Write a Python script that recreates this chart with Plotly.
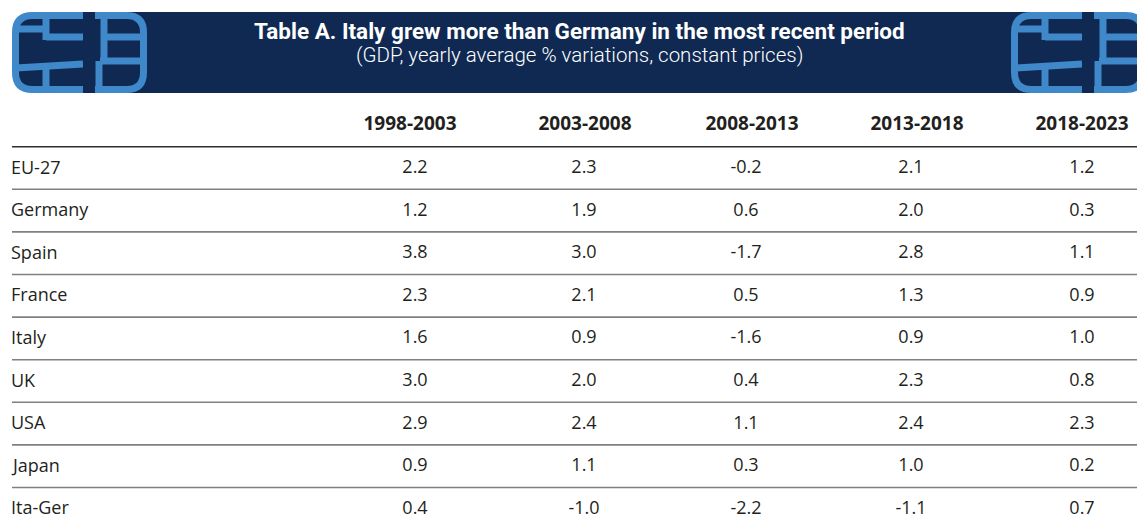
import plotly.graph_objects as go

# ---------------- data ----------------
periods = ["1998-2003", "2003-2008", "2008-2013", "2013-2018", "2018-2023"]
countries = ["EU-27", "Germany", "Spain", "France", "Italy", "UK", "USA", "Japan", "Ita-Ger"]
v_1998_2003 = [2.2, 1.2, 3.8, 2.3, 1.6, 3.0, 2.9, 0.9, 0.4]
v_2003_2008 = [2.3, 1.9, 3.0, 2.1, 0.9, 2.0, 2.4, 1.1, -1.0]
v_2008_2013 = [-0.2, 0.6, -1.7, 0.5, -1.6, 0.4, 1.1, 0.3, -2.2]
v_2013_2018 = [2.1, 2.0, 2.8, 1.3, 0.9, 2.3, 2.4, 1.0, -1.1]
v_2018_2023 = [1.2, 0.3, 1.1, 0.9, 1.0, 0.8, 2.3, 0.2, 0.7]
columns = [v_1998_2003, v_2003_2008, v_2008_2013, v_2013_2018, v_2018_2023]
title = "Table A. Italy grew more than Germany in the most recent period"
subtitle = "(GDP, yearly average % variations, constant prices)"

# ---------------- layout constants (pixel-like axis units) ----------------
W, H = 1137, 524
NAVY = "#0f2952"
BLUE = "#3f88c9"
TXT = "#231f20"
head_x = [410, 585, 752, 917, 1082]
val_x = [415, 584, 746, 911, 1082]
head_y = 125
line0 = 146.7
step = 42.6
label_x = 9
body_font = "Open Sans, Noto Sans, sans-serif"
title_font = "Roboto, sans-serif"

row_y = [line0 + step * (i + 0.5) for i in range(len(countries))]

fig = go.Figure()

# values
for j, col in enumerate(columns):
    fig.add_trace(go.Scatter(
        x=[val_x[j]] * len(col), y=[y + 0.5 for y in row_y],
        text=[f"{v:.1f}" for v in col],
        mode="text", textposition="middle center",
        textfont=dict(family=body_font, size=18, color=TXT),
        hoverinfo="skip", showlegend=False, cliponaxis=False))

# column headers
fig.add_trace(go.Scatter(
    x=head_x, y=[head_y] * len(periods), text=periods,
    mode="text", textposition="middle center",
    textfont=dict(family=body_font, size=19, color=TXT, weight="bold"),
    hoverinfo="skip", showlegend=False, cliponaxis=False))

# row labels
for i, c in enumerate(countries):
    fig.add_annotation(x=label_x, y=row_y[i] - 1.5, xref="x", yref="y", text=c,
                       showarrow=False, xanchor="left", yanchor="middle",
                       font=dict(family=body_font, size=18, color=TXT))

shapes = []
# horizontal rules
shapes.append(dict(type="line", xref="x", yref="y", x0=12, x1=W, y0=line0, y1=line0,
                   line=dict(color="#2e2e2e", width=1.6)))
for k in range(1, len(countries)):
    yk = line0 + step * k
    shapes.append(dict(type="line", xref="x", yref="y", x0=12, x1=W, y0=yk, y1=yk,
                       line=dict(color="#808080", width=1.6)))

# banner
shapes.append(dict(type="rect", xref="x", yref="y", x0=40, x1=1100, y0=12, y1=93,
                   fillcolor=NAVY, line=dict(width=0), layer="below"))


def icon(ox):
    out = []
    x0, y0, w, h, r = ox + 3.5, 15.5, 128, 74, 17
    x1, y1 = x0 + w, y0 + h
    path = (f"M {x0+r},{y0} L {x1-r},{y0} Q {x1},{y0} {x1},{y0+r} "
            f"L {x1},{y1-r} Q {x1},{y1} {x1-r},{y1} L {x0+r},{y1} "
            f"Q {x0},{y1} {x0},{y1-r} L {x0},{y0+r} Q {x0},{y0} {x0+r},{y0} Z")
    out.append(dict(type="path", xref="x", yref="y", path=path, fillcolor=NAVY,
                    line=dict(color=BLUE, width=7)))
    segs = [
        (ox + 4, 29, ox + 34, 29),
        (ox + 34, 14, ox + 34, 40),
        (ox + 34, 37, ox + 71, 37),
        (ox + 4, 68, ox + 71, 64),
        (ox + 34, 66, ox + 34, 92),
        (ox + 92, 14, ox + 92, 62),
        (ox + 92, 37, ox + 130, 37),
        (ox + 88, 61, ox + 130, 61),
        (ox + 87, 61, ox + 87, 92),
    ]
    for (a, b, c, d) in segs:
        out.append(dict(type="line", xref="x", yref="y", x0=a, y0=b, x1=c, y1=d,
                        line=dict(color=BLUE, width=7)))
    out.append(dict(type="rect", xref="x", yref="y", x0=ox + 71, x1=ox + 83, y0=12, y1=93,
                    fillcolor=NAVY, line=dict(width=0)))
    return out


shapes += icon(12)
shapes += icon(1011)

fig.update_layout(shapes=shapes)

fig.add_annotation(x=579, y=31, xref="x", yref="y", text=f"<b>{title}</b>",
                   showarrow=False, xanchor="center", yanchor="middle",
                   font=dict(family=title_font, size=22.5, color="white"))
fig.add_annotation(x=579, y=55, xref="x", yref="y", text=subtitle,
                   showarrow=False, xanchor="center", yanchor="middle",
                   font=dict(family=title_font, size=20.5, color="white", weight=300))

fig.update_layout(
    width=W, height=H, autosize=False,
    margin=dict(l=0, r=0, t=0, b=0, pad=0),
    paper_bgcolor="white", plot_bgcolor="white",
    xaxis=dict(range=[0, W], visible=False, fixedrange=True),
    yaxis=dict(range=[H, 0], visible=False, fixedrange=True),
    showlegend=False,
)

fig.write_html("out.html", config={"displayModeBar": False, "staticPlot": True},
               post_script="document.body.style.margin='0';")
